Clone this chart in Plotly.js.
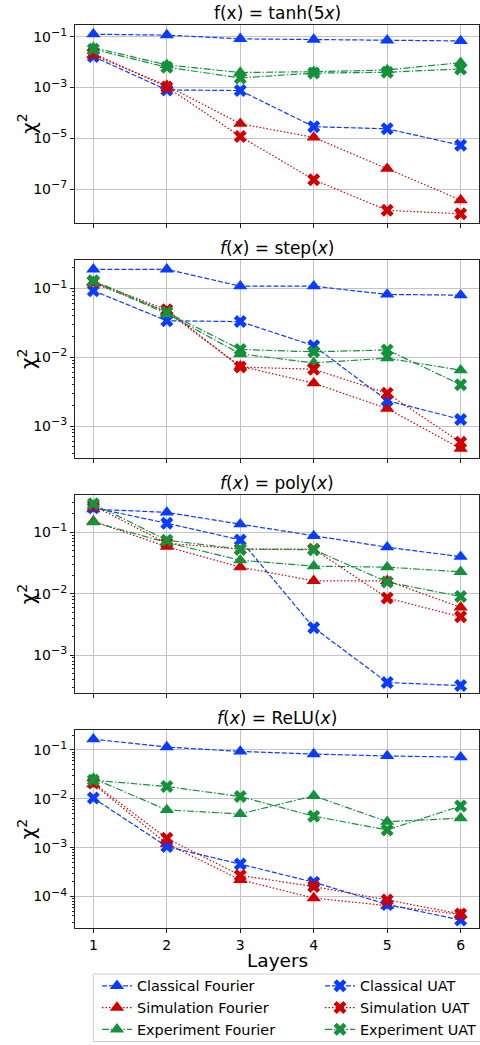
<!DOCTYPE html>
<html><head><meta charset="utf-8">
<script src="https://cdn.plot.ly/plotly-3.0.1.min.js"></script>
<style>html,body{margin:0;padding:0;background:#fff}</style>
</head><body><div id="chart" style="width:480px;height:1045px"></div>
<script>
const layers = [1, 2, 3, 4, 5, 6];
const xTickLabels = ['1', '2', '3', '4', '5', '6'];

const panelTitles = ['f(x) = tanh(5<i>x</i>)', '<i>f</i>(<i>x</i>) = step(<i>x</i>)', '<i>f</i>(<i>x</i>) = poly(<i>x</i>)', '<i>f</i>(<i>x</i>) = ReLU(<i>x</i>)'];
const seriesNames = ['Classical Fourier', 'Classical UAT', 'Simulation Fourier', 'Simulation UAT', 'Experiment Fourier', 'Experiment UAT'];

// tanh(5x)
const tanhClassicalFourier = [0.125, 0.115, 0.082, 0.077, 0.072, 0.068];
const tanhClassicalUAT = [0.0165, 8.1e-4, 7.6e-4, 2.9e-5, 2.4e-5, 5.4e-6];
const tanhSimulationFourier = [0.019, 1.2e-3, 3.8e-5, 1.1e-5, 6.5e-7, 3.8e-8];
const tanhSimulationUAT = [0.022, 1.05e-3, 1.2e-5, 2.4e-7, 1.5e-8, 1.1e-8];
const tanhExperimentFourier = [0.037, 7.8e-3, 3.9e-3, 4.2e-3, 4.9e-3, 9.5e-3];
const tanhExperimentUAT = [0.032, 6.3e-3, 2.4e-3, 3.7e-3, 4.0e-3, 5.4e-3];

// step(x)
const stepClassicalFourier = [0.19, 0.19, 0.108, 0.108, 0.082, 0.08];
const stepClassicalUAT = [0.093, 0.034, 0.033, 0.0147, 2.35e-3, 1.25e-3];
const stepSimulationFourier = [0.12, 0.046, 7.4e-3, 4.2e-3, 1.8e-3, 4.7e-4];
const stepSimulationUAT = [0.125, 0.049, 7.2e-3, 6.7e-3, 3.0e-3, 5.8e-4];
const stepExperimentFourier = [0.125, 0.043, 0.0112, 8.3e-3, 9.7e-3, 6.5e-3];
const stepExperimentUAT = [0.13, 0.045, 0.013, 0.012, 0.0128, 4.0e-3];

// poly(x)
const polyClassicalFourier = [0.237, 0.21, 0.135, 0.087, 0.057, 0.04];
const polyClassicalUAT = [0.25, 0.14, 0.075, 2.8e-3, 3.6e-4, 3.2e-4];
const polySimulationFourier = [0.15, 0.058, 0.027, 0.0162, 0.0162, 6.0e-3];
const polySimulationUAT = [0.27, 0.066, 0.053, 0.053, 8.5e-3, 4.2e-3];
const polyExperimentFourier = [0.146, 0.068, 0.035, 0.028, 0.027, 0.0227];
const polyExperimentUAT = [0.29, 0.074, 0.053, 0.052, 0.0155, 9.0e-3];

// ReLU(x)
const reluClassicalFourier = [0.165, 0.114, 0.093, 0.082, 0.075, 0.071];
const reluClassicalUAT = [0.0103, 1.05e-3, 4.6e-4, 1.96e-4, 6.9e-5, 3.3e-5];
const reluSimulationFourier = [0.02, 1.2e-3, 2.2e-4, 9.3e-5, 6.5e-5, 4.3e-5];
const reluSimulationUAT = [0.021, 1.55e-3, 2.7e-4, 1.6e-4, 8.5e-5, 4.4e-5];
const reluExperimentFourier = [0.026, 5.9e-3, 4.9e-3, 0.0115, 3.4e-3, 4.0e-3];
const reluExperimentUAT = [0.024, 0.0178, 0.0111, 4.4e-3, 2.3e-3, 7.1e-3];

const yTickVals = [[1e-7, 1e-5, 1e-3, 1e-1], [1e-3, 1e-2, 1e-1], [1e-3, 1e-2, 1e-1], [1e-4, 1e-3, 1e-2, 1e-1]];
const yTickExps = [['−7', '−5', '−3', '−1'], ['−3', '−2', '−1'], ['−3', '−2', '−1'], ['−4', '−3', '−2', '−1']];
const yTickText = yTickExps.map(row => row.map(e => '10<sup><span style="font-size:11px">' + e + '</span></sup>'));

const panels = [
  [tanhClassicalFourier, tanhClassicalUAT, tanhSimulationFourier, tanhSimulationUAT, tanhExperimentFourier, tanhExperimentUAT],
  [stepClassicalFourier, stepClassicalUAT, stepSimulationFourier, stepSimulationUAT, stepExperimentFourier, stepExperimentUAT],
  [polyClassicalFourier, polyClassicalUAT, polySimulationFourier, polySimulationUAT, polyExperimentFourier, polyExperimentUAT],
  [reluClassicalFourier, reluClassicalUAT, reluSimulationFourier, reluSimulationUAT, reluExperimentFourier, reluExperimentUAT]
];

// styling (not data)
const BLUE = '#0a3cff', RED = '#d00000', GREEN = '#14913a';
const styles = [
  {color: BLUE, dash: '5px,2px', symbol: 'triangle-up', legend: 'legend'},
  {color: BLUE, dash: '5px,2px', symbol: 'x', legend: 'legend2'},
  {color: RED, dash: '1.5px,2px', symbol: 'triangle-up', legend: 'legend'},
  {color: RED, dash: '1.5px,2px', symbol: 'x', legend: 'legend2'},
  {color: GREEN, dash: '7px,2px,1.5px,2px', symbol: 'triangle-up', legend: 'legend'},
  {color: GREEN, dash: '7px,2px,1.5px,2px', symbol: 'x', legend: 'legend2'}
];
const drawOrder = [0, 2, 4, 1, 3, 5];
const yRanges = [[-8.31, -0.53], [-3.46, -0.59], [-3.62, -0.40], [-4.65, -0.60]];
const W = 480, H = 1045, ML = 75, MR = 1;
const PW = W - ML - MR;
const pxDomains = [[24.7, 222.7], [260.3, 457.7], [495.3, 693.3], [730.3, 928.3]];
const domains = pxDomains.map(d => [1 - d[1] / H, 1 - d[0] / H]);
const px2x = px => (px - ML) / PW;
const px2y = py => 1 - py / H;

const FONT = 'DejaVu Sans, sans-serif';
const traces = [];
panels.forEach((panel, p) => {
  const sfx = p === 0 ? '' : String(p + 1);
  drawOrder.forEach(k => {
    const st = styles[k];
    traces.push({
      x: layers, y: panel[k], type: 'scatter', mode: 'lines+markers',
      name: seriesNames[k], legend: st.legend, legendrank: k + 1, showlegend: p === 0,
      xaxis: 'x' + sfx, yaxis: 'y' + sfx,
      line: {color: st.color, width: 1.2, dash: st.dash},
      marker: {color: st.color, symbol: st.symbol, size: k % 2 === 0 ? 12.5 : 11.5}
    });
  });
});

const legendCommon = {
  orientation: 'v', yanchor: 'top', y: px2y(970), xanchor: 'left',
  bgcolor: 'rgba(0,0,0,0)', borderwidth: 0, tracegroupgap: 0,
  font: {family: FONT, size: 14.4}, itemwidth: 30
};

const layout = {
  width: W, height: H,
  margin: {l: ML, r: MR, t: 0, b: 0, autoexpand: false},
  paper_bgcolor: '#fff', plot_bgcolor: '#fff',
  font: {family: FONT, size: 14, color: '#000'},
  showlegend: true,
  legend: Object.assign({}, legendCommon, {x: px2x(97)}),
  legend2: Object.assign({}, legendCommon, {x: px2x(320)}),
  shapes: [{
    type: 'rect', xref: 'paper', yref: 'paper',
    x0: px2x(93.3), x1: px2x(492), y0: px2y(1041.5), y1: px2y(974),
    line: {color: '#cccccc', width: 1}, fillcolor: 'rgba(255,255,255,0.8)', layer: 'below'
  }],
  annotations: []
};

domains.forEach((dom, p) => {
  const sfx = p === 0 ? '' : String(p + 1);
  layout['xaxis' + sfx] = {
    domain: [0, 1], anchor: 'y' + sfx, range: [0.75, 6.25],
    tickmode: 'array', tickvals: layers, ticktext: xTickLabels,
    showticklabels: p === 3, ticks: 'outside', ticklen: 4, tickcolor: '#222',
    showgrid: true, gridcolor: '#c4c4c4', gridwidth: 1, zeroline: false,
    showline: true, linecolor: '#222', linewidth: 1, mirror: true,
    tickfont: {family: FONT, size: 14}
  };
  const ya = {
    domain: dom, anchor: 'x' + sfx, type: 'log', range: yRanges[p],
    tickmode: 'array', tickvals: yTickVals[p], ticktext: yTickText[p],
    ticks: 'outside', ticklen: 4, tickcolor: '#222',
    showgrid: true, gridcolor: '#c4c4c4', gridwidth: 1, zeroline: false,
    showline: true, linecolor: '#222', linewidth: 1, mirror: true,
    tickfont: {family: FONT, size: 14}
  };
  if (p > 0) ya.minor = {ticks: 'outside', ticklen: 2, tickcolor: '#222', dtick: 'D1', showgrid: false};
  layout['yaxis' + sfx] = ya;
  layout.annotations.push({
    text: panelTitles[p], xref: 'paper', yref: 'paper', x: 0.5, y: dom[1],
    xanchor: 'center', yanchor: 'bottom', yshift: 0, showarrow: false,
    font: {family: FONT, size: 17}
  });
  layout.annotations.push({
    text: 'χ<sup>2</sup>', xref: 'paper', yref: 'paper', x: px2x(27), y: (dom[0] + dom[1]) / 2,
    xanchor: 'center', yanchor: 'middle', textangle: -90, showarrow: false,
    font: {family: FONT, size: 20}
  });
});
layout.annotations.push({
  text: 'Layers', xref: 'paper', yref: 'paper', x: 0.5, y: px2y(960),
  xanchor: 'center', yanchor: 'middle', showarrow: false,
  font: {family: FONT, size: 18.5}
});

Plotly.newPlot('chart', traces, layout, {staticPlot: true, displayModeBar: false});
</script></body></html>
